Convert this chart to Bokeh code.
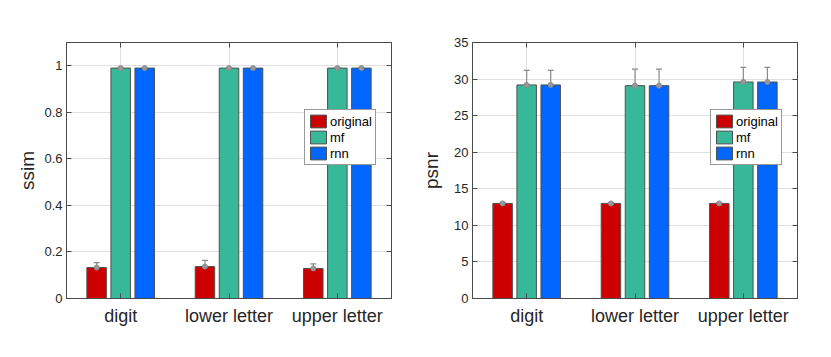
from bokeh.plotting import figure
from bokeh.layouts import row
from bokeh.models import (ColumnDataSource, Whisker, TeeHead, FixedTicker, LinearAxis,
                          CustomJSTickFormatter, Range1d)
from bokeh.embed import file_html
from bokeh.resources import INLINE

categories = ["digit", "lower letter", "upper letter"]
series = ["original", "mf", "rnn"]
colors = ["#cc0000", "#36b899", "#0066ff"]

ssim_original = [0.133, 0.137, 0.129]
ssim_mf = [0.990, 0.990, 0.990]
ssim_rnn = [0.990, 0.990, 0.990]
ssim_original_err = [0.021, 0.027, 0.020]
ssim_mf_err = [0.002, 0.002, 0.002]
ssim_rnn_err = [0.002, 0.002, 0.002]

psnr_original = [13.0, 13.0, 13.0]
psnr_mf = [29.2, 29.1, 29.6]
psnr_rnn = [29.2, 29.1, 29.6]
psnr_original_err = [0.1, 0.1, 0.1]
psnr_mf_err = [2.0, 2.25, 2.0]
psnr_rnn_err = [2.0, 2.25, 2.0]

yticks_ssim = [0, 0.2, 0.4, 0.6, 0.8, 1]
yticks_psnr = [0, 5, 10, 15, 20, 25, 30, 35]

FONT = "Liberation Sans"
offsets = [-0.222, 0.0, 0.222]
BAR_W = 0.18


def make_plot(ylabel, vals, errs, ymax, yticks, border_left, label_standoff):
    p = figure(output_backend="svg", toolbar_location=None,
               x_range=Range1d(0.5, 3.5), y_range=Range1d(0, ymax),
               frame_width=325, frame_height=256,
               min_border_left=border_left, min_border_right=23, min_border_top=42,
               min_border_bottom=40)
    p.background_fill_color = "white"
    p.border_fill_color = "white"
    p.outline_line_color = "#4a4a4a"
    p.outline_line_width = 1
    xs = [1, 2, 3]
    for i, (name, col) in enumerate(zip(series, colors)):
        xpos = [x + offsets[i] for x in xs]
        src = ColumnDataSource(dict(x=xpos, top=vals[i],
                                    lo=[v - e for v, e in zip(vals[i], errs[i])],
                                    hi=[v + e for v, e in zip(vals[i], errs[i])]))
        p.vbar(x="x", top="top", width=BAR_W, source=src, fill_color=col,
               line_color="#505050", line_width=1, legend_label=name)
        w = Whisker(base="x", upper="hi", lower="lo", source=src,
                    line_color="#8a8a8a", line_width=1.2,
                    upper_head=TeeHead(size=6, line_color="#8a8a8a", line_width=1.2),
                    lower_head=TeeHead(size=6, line_color="#8a8a8a", line_width=1.2))
        p.add_layout(w)
        p.scatter(x="x", y="top", source=src, size=5, fill_color="#999999",
                  line_color="#8a8a8a", line_width=1)

    # axes
    p.xaxis.ticker = FixedTicker(ticks=xs)
    p.xaxis.major_label_overrides = {1: categories[0], 2: categories[1], 3: categories[2]}
    p.yaxis.ticker = FixedTicker(ticks=yticks)
    for ax in (p.xaxis[0], p.yaxis[0]):
        ax.major_tick_in = 5
        ax.major_tick_out = 0
        ax.minor_tick_in = 0
        ax.minor_tick_out = 0
        ax.axis_line_color = "#4a4a4a"
        ax.major_tick_line_color = "#4a4a4a"
        ax.major_label_text_font = FONT
        ax.major_label_text_color = "#262626"
    p.xaxis.major_label_text_font_size = "18px"
    p.xaxis.major_label_standoff = 7
    p.yaxis.major_label_text_font_size = "13px"
    p.yaxis.major_label_standoff = 4
    p.yaxis.axis_label = ylabel
    p.yaxis.axis_label_text_font = FONT
    p.yaxis.axis_label_text_font_size = "19px"
    p.yaxis.axis_label_text_font_style = "normal"
    p.yaxis.axis_label_text_color = "#262626"
    p.yaxis.axis_label_standoff = label_standoff

    blank = CustomJSTickFormatter(code="return ''")
    rax = LinearAxis(ticker=FixedTicker(ticks=yticks), formatter=blank,
                     major_tick_in=5, major_tick_out=0, minor_tick_in=0, minor_tick_out=0,
                     axis_line_color="#4a4a4a", major_tick_line_color="#4a4a4a",
                     major_label_text_font_size="1px")
    p.add_layout(rax, "right")
    tax = LinearAxis(ticker=FixedTicker(ticks=xs), formatter=blank,
                     major_tick_in=5, major_tick_out=0, minor_tick_in=0, minor_tick_out=0,
                     axis_line_color="#4a4a4a", major_tick_line_color="#4a4a4a",
                     major_label_text_font_size="1px")
    p.add_layout(tax, "above")

    p.xgrid.ticker = FixedTicker(ticks=xs)
    p.ygrid.ticker = FixedTicker(ticks=yticks)
    p.xgrid.grid_line_color = "#e0e0e0"
    p.ygrid.grid_line_color = "#e0e0e0"

    lg = p.legend[0]
    lg.location = (238, 133)
    lg.border_line_color = "#333333"
    lg.border_line_width = 1
    lg.background_fill_alpha = 1
    lg.padding = 3
    lg.spacing = 0
    lg.margin = 0
    lg.glyph_width = 20
    lg.glyph_height = 16
    lg.label_standoff = 2
    lg.label_text_font = FONT
    lg.label_text_font_size = "13px"
    lg.label_height = 16
    lg.label_text_color = "#000000"
    return p


p1 = make_plot("ssim", [ssim_original, ssim_mf, ssim_rnn],
               [ssim_original_err, ssim_mf_err, ssim_rnn_err], 1.1, yticks_ssim, 66, 3)
p2 = make_plot("psnr", [psnr_original, psnr_mf, psnr_rnn],
               [psnr_original_err, psnr_mf_err, psnr_rnn_err], 35, yticks_psnr, 58, 9)

layout = row(p1, p2)
open("out.html", "w").write(file_html(layout, INLINE))
